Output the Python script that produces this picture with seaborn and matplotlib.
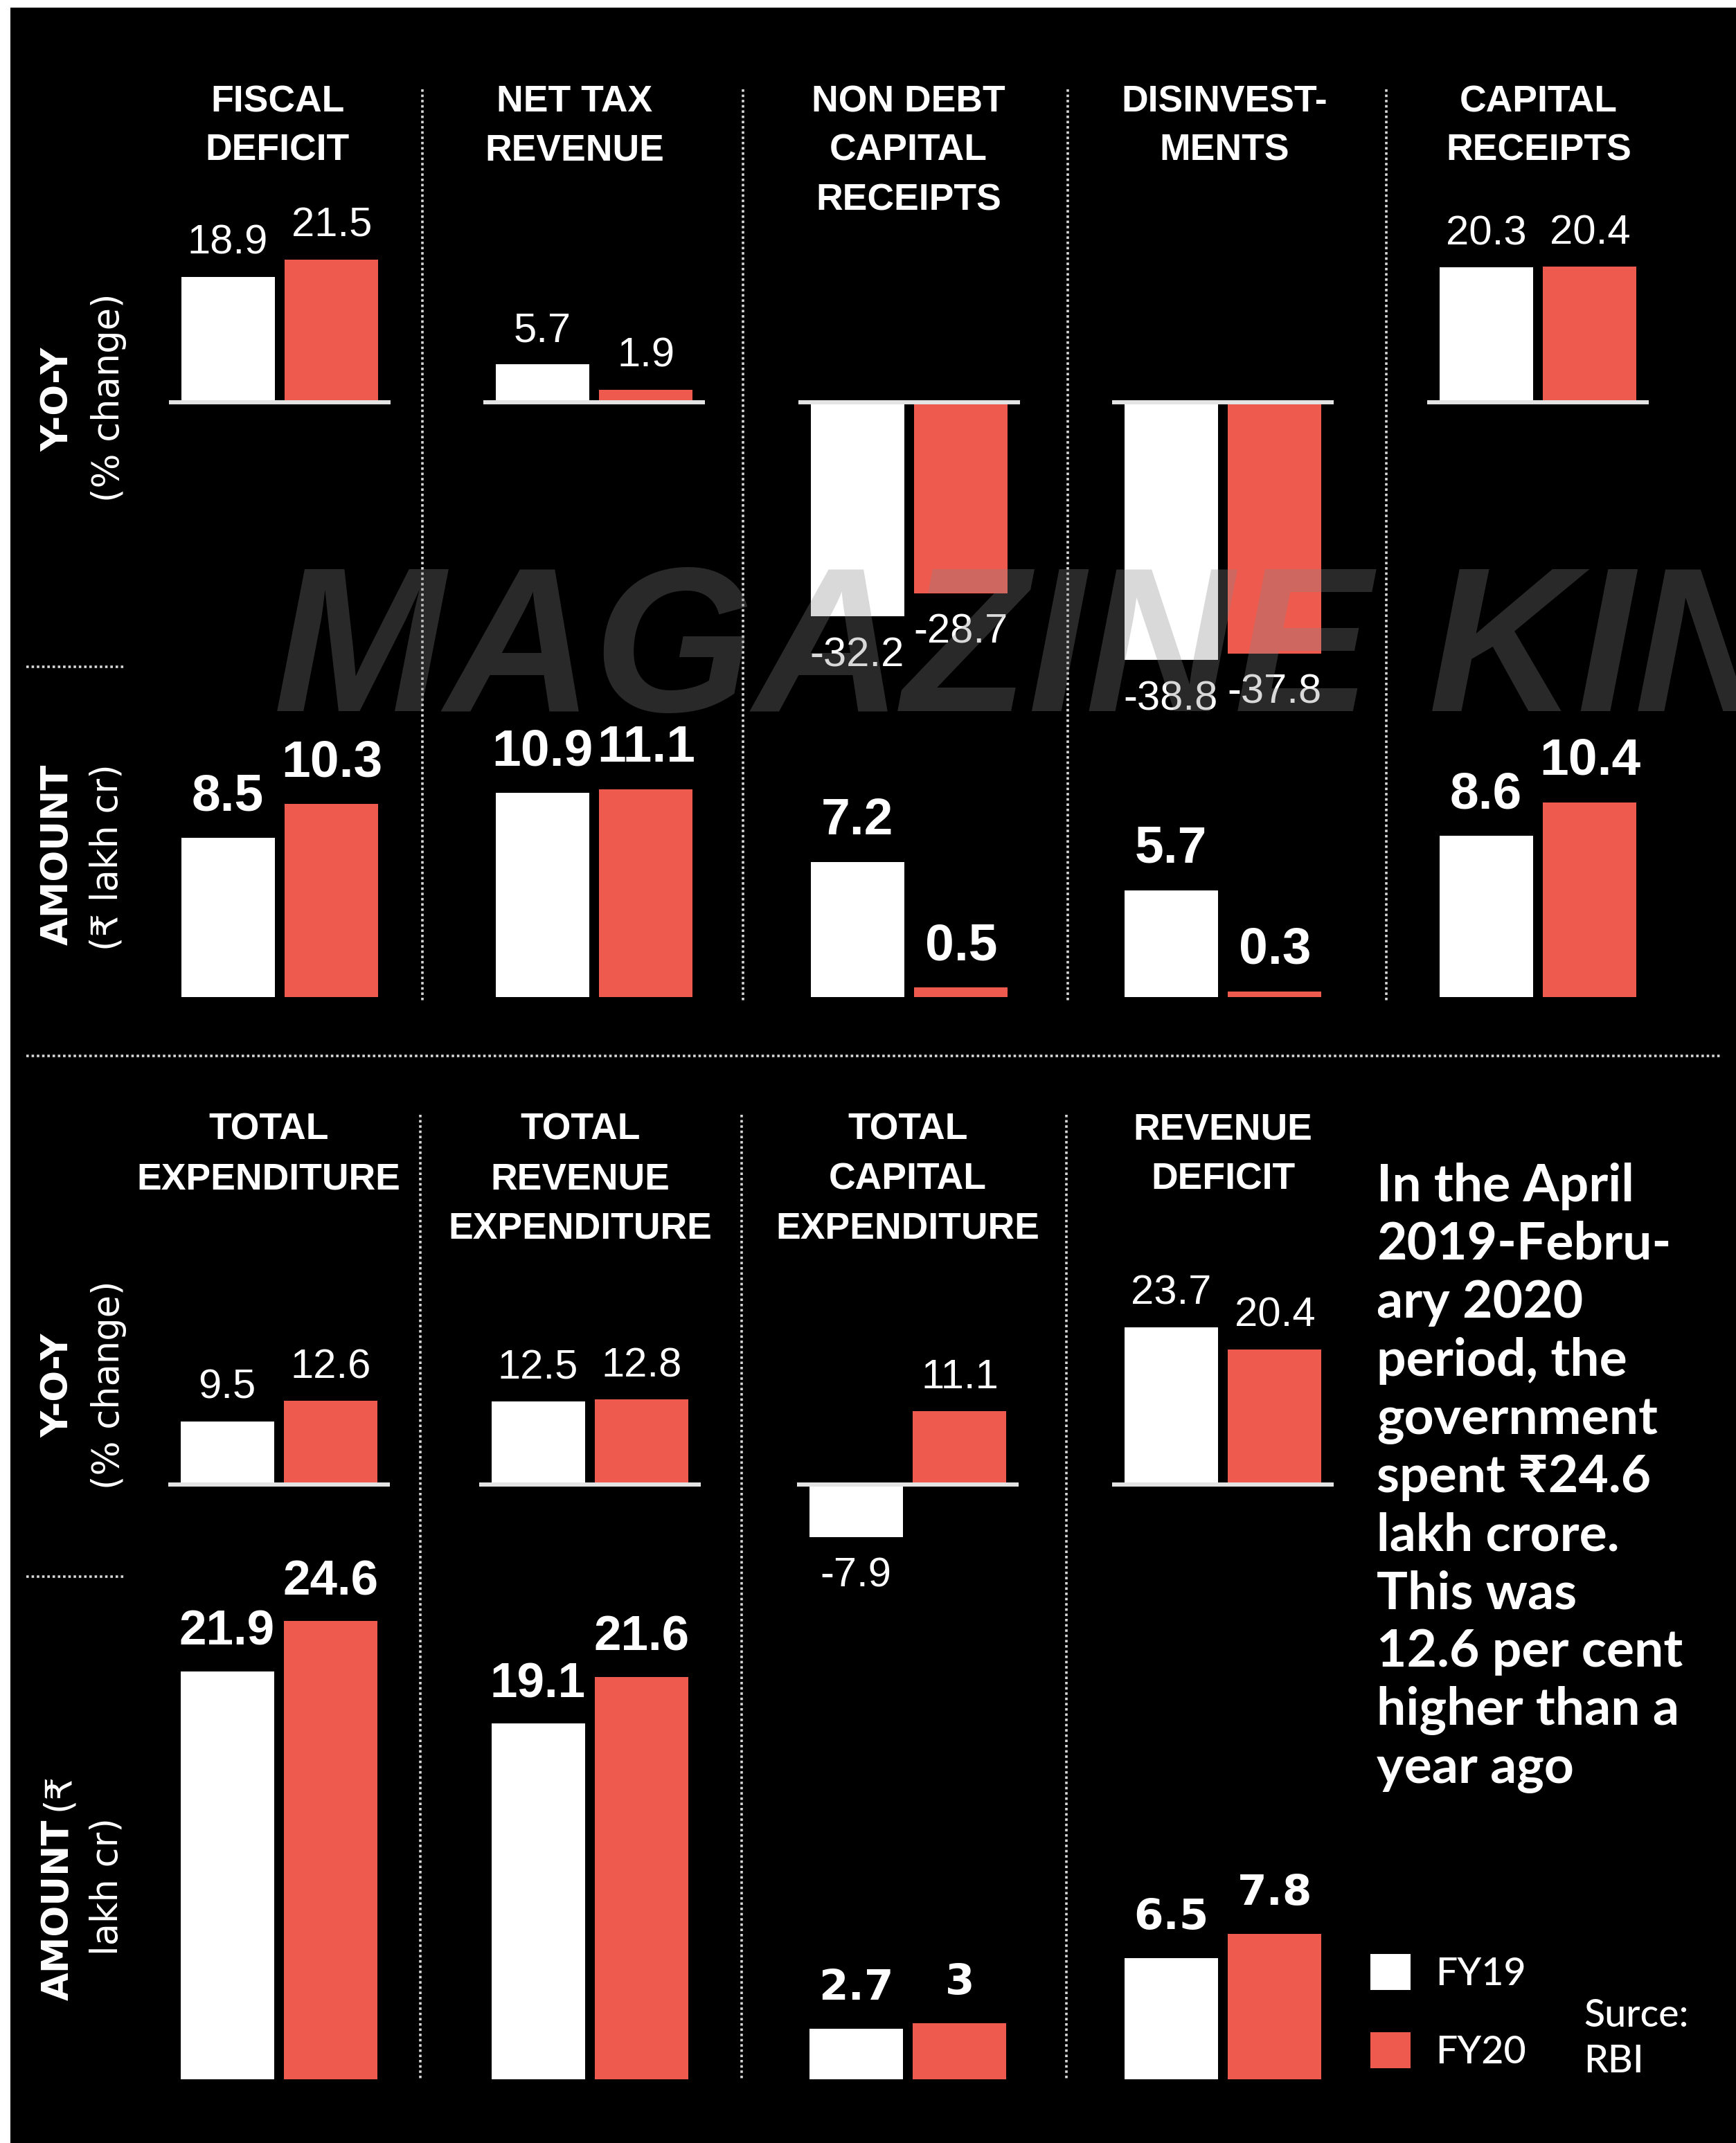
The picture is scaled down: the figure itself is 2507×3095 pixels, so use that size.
import matplotlib
matplotlib.use('Agg')
import matplotlib.pyplot as plt
import seaborn as sns
import pandas as pd
from matplotlib import font_manager
from matplotlib.transforms import offset_copy
from matplotlib.patches import Rectangle
from matplotlib.lines import Line2D

sns.set_theme(style='white')

installed = {f.name for f in font_manager.fontManager.ttflist}


def pick(*names):
    for n in names:
        if n in installed:
            return [n, 'DejaVu Sans']
    return ['DejaVu Sans']


SANS = pick('Liberation Sans', 'Arial')
BODY = pick('Lato', 'Open Sans')
WIDE = ['DejaVu Sans', 'Noto Sans']
plt.rcParams['font.family'] = SANS

# ---- data ----
years = ['FY19', 'FY20']
colors = ['#FFFFFF', '#EF5A4E']

top_titles = ['FISCAL\nDEFICIT', 'NET TAX\nREVENUE', 'NON DEBT\nCAPITAL\nRECEIPTS',
              'DISINVEST-\nMENTS', 'CAPITAL\nRECEIPTS']
top_yoy = [[18.9, 21.5], [5.7, 1.9], [-32.2, -28.7], [-38.8, -37.8], [20.3, 20.4]]
top_amount = [[8.5, 10.3], [10.9, 11.1], [7.2, 0.5], [5.7, 0.3], [8.6, 10.4]]

bottom_titles = ['TOTAL\nEXPENDITURE', 'TOTAL\nREVENUE\nEXPENDITURE',
                 'TOTAL\nCAPITAL\nEXPENDITURE', 'REVENUE\nDEFICIT']
bottom_yoy = [[9.5, 12.6], [12.5, 12.8], [-7.9, 11.1], [23.7, 20.4]]
bottom_amount = [[21.9, 24.6], [19.1, 21.6], [2.7, 3.0], [6.5, 7.8]]

note_lines = ['In the April', '2019-Febru-', 'ary 2020', 'period, the', 'government',
              'spent \u20b924.6', 'lakh crore.', 'This was', '12.6 per cent',
              'higher than a', 'year ago']

# ---- layout (pixels of the 2507x3095 canvas) ----
W, H = 2507, 3095
PANEL_W = 320
top_lefts = [244, 698, 1153, 1606, 2061]
top_title_x = [401, 830, 1312, 1768, 2222]
bot_lefts = [243, 692, 1151, 1606]
bot_title_x = [388, 838, 1311, 1766]


def fx(px):
    return px / W


def fy(py):
    return 1 - py / H


fig = plt.figure(figsize=(W / 100, H / 100), dpi=100, facecolor='white')
fig.add_artist(Rectangle((fx(15), 0), 1 - fx(15), fy(11), transform=fig.transFigure,
                         facecolor='black', edgecolor='none', zorder=-10))


def bar_panel(left, base, scale, ymin, ymax, vals, baseline=False):
    bottom = base - ymin * scale
    height = (ymax - ymin) * scale
    ax = fig.add_axes([fx(left), fy(bottom), PANEL_W / W, height / H])
    df = pd.DataFrame({'year': years, 'value': vals})
    sns.barplot(data=df, x='year', y='value', hue='year', palette=colors, width=0.9,
                saturation=1, linewidth=0, edgecolor='none', legend=False, ax=ax, zorder=2)
    ax.set_xlim(-0.567, 1.567)
    ax.set_ylim(ymin, ymax)
    ax.axis('off')
    if baseline:
        ax.axhline(0, color='#e4e4e4', lw=4.3, zorder=3)
    return ax


def label_bars(ax, vals, gap, size, weight, family):
    for i, v in enumerate(vals):
        if v >= 0:
            tr = offset_copy(ax.transData, fig=fig, y=gap, units='dots')
            va = 'baseline'
        else:
            tr = offset_copy(ax.transData, fig=fig, y=-gap + 4, units='dots')
            va = 'top'
        ax.text(i, v, f'{v:g}', transform=tr, ha='center', va=va, color='white',
                fontsize=size, fontweight=weight, family=family, zorder=4)


def title(x, y0, text):
    for k, line in enumerate(text.split('\n')):
        fig.text(fx(x), fy(y0 + k * 71), line, ha='center', va='baseline', color='white',
                 fontsize=38.5, fontweight='bold', family=SANS)


# top block
for i in range(5):
    title(top_title_x[i], 161, top_titles[i])
    ax = bar_panel(top_lefts[i], 581, 9.6, -42, 25, top_yoy[i], baseline=True)
    label_bars(ax, top_yoy[i], 33, 43, 'normal', SANS)
    ax = bar_panel(top_lefts[i], 1440, 27.05, 0, 12, top_amount[i])
    label_bars(ax, top_amount[i], 40, 54, 'bold', SANS)

# bottom block
for i in range(4):
    title(bot_title_x[i], 1646, bottom_titles[i])
    ax = bar_panel(bot_lefts[i], 2144, 9.58, -10, 25, bottom_yoy[i], baseline=True)
    label_bars(ax, bottom_yoy[i], 33, 43, 'normal', SANS)
    ax = bar_panel(bot_lefts[i], 3003, 26.9, 0, 25, bottom_amount[i])
    if i < 2:
        label_bars(ax, bottom_amount[i], 38, 51, 'bold', SANS)
    else:
        label_bars(ax, bottom_amount[i], 42, 44, 'bold', WIDE)
    if i == 0:
        legend_ax = ax

# row labels on the left
side = dict(rotation=90, ha='center', va='center', color='white', fontsize=38)
fig.text(fx(84), fy(577), 'Y-O-Y', fontweight='bold', family=WIDE, **side)
fig.text(fx(157), fy(574), '(% change)', family=WIDE, **side)
fig.text(fx(83), fy(1234), 'AMOUNT', fontweight='bold', family=WIDE, **side)
fig.text(fx(155), fy(1238), '(\u20b9 lakh cr)', family=WIDE, **side)
fig.text(fx(84), fy(2001), 'Y-O-Y', fontweight='bold', family=WIDE, **side)
fig.text(fx(157), fy(2000), '(% change)', family=WIDE, **side)
fig.text(fx(84), fy(2889), 'AMOUNT', rotation=90, ha='center', va='bottom', color='white',
         fontsize=38, fontweight='bold', family=WIDE)
fig.text(fx(84), fy(2615), '(\u20b9', rotation=90, ha='center', va='bottom', color='white',
         fontsize=38, family=WIDE)
fig.text(fx(155), fy(2725), 'lakh cr)', family=WIDE, **side)

# dotted separators
dot = dict(color='#d8d8d8', lw=2.6, linestyle=(0, (1, 1.1)), transform=fig.transFigure)
for x in [610, 1073, 1542, 2002]:
    fig.add_artist(Line2D([fx(x), fx(x)], [fy(129), fy(1447)], **dot))
for x in [607, 1071, 1540]:
    fig.add_artist(Line2D([fx(x), fx(x)], [fy(1610), fy(3005)], **dot))
fig.add_artist(Line2D([fx(38), fx(2487)], [fy(1525), fy(1525)], **dot))
for y in [963, 2277]:
    fig.add_artist(Line2D([fx(38), fx(181)], [fy(y), fy(y)], **dot))

# note text
for k, line in enumerate(note_lines):
    fig.text(fx(1988), fy(1735 + k * 84), line, ha='left', va='baseline', color='white',
             fontsize=54, fontweight='bold', family=BODY)

# legend
fig.legend(handles=legend_ax.patches[:2], labels=years, loc='upper left',
           bbox_to_anchor=(fx(1979), fy(2822)), frameon=False,
           prop={'family': BODY, 'size': 40, 'weight': 'medium'}, labelcolor='white',
           handlelength=1.05, handleheight=1.05, handletextpad=0.65, labelspacing=1.05,
           borderpad=0, borderaxespad=0)

fig.text(fx(2287), fy(2927), 'Surce:', ha='left', va='baseline', color='white',
         fontsize=40, fontweight='medium', family=BODY)
fig.text(fx(2287), fy(2993), 'RBI', ha='left', va='baseline', color='white',
         fontsize=40, fontweight='medium', family=BODY)

# watermark
fig.text(fx(395), fy(1027), 'MAGAZINE KING', ha='left', va='baseline',
         color=(0.53, 0.53, 0.53, 0.31), fontsize=214, style='italic', fontweight='bold',
         family=SANS, zorder=10)

fig.savefig('out.png', dpi=100, facecolor=fig.get_facecolor())
